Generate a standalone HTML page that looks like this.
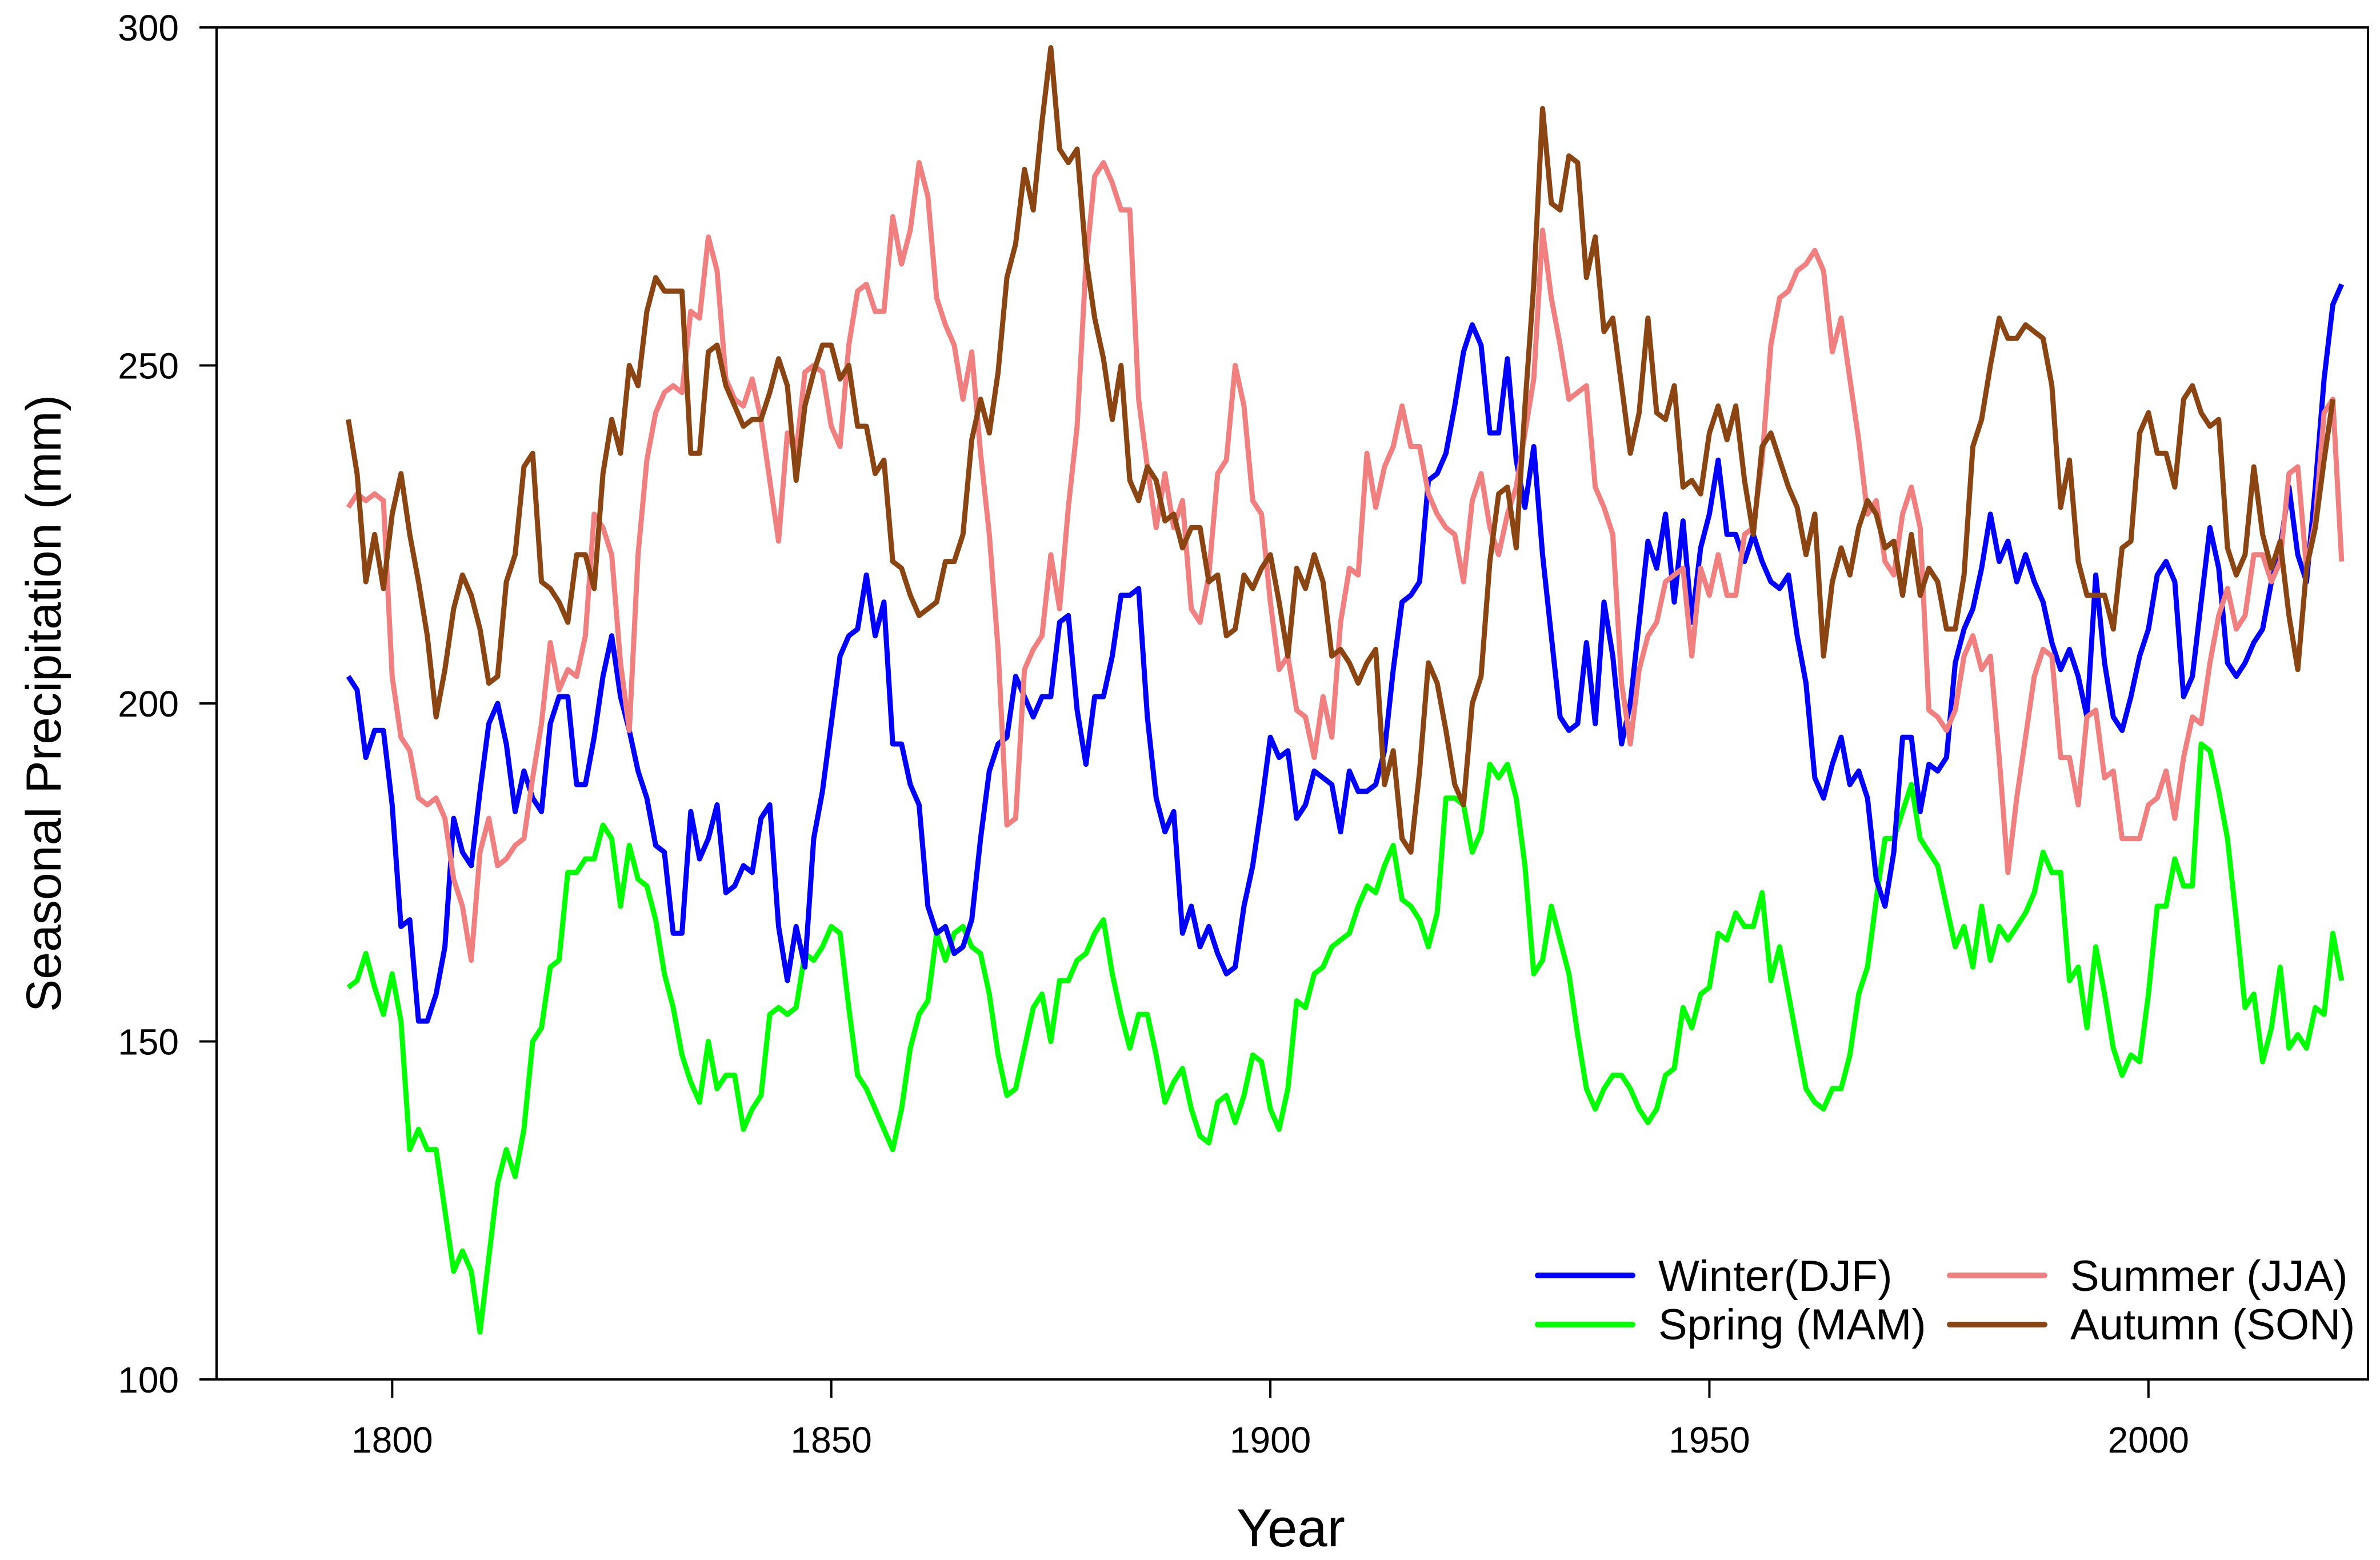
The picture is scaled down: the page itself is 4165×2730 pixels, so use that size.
<!DOCTYPE html>
<html><head><meta charset="utf-8"><style>
html,body{margin:0;padding:0;background:#fff;}
svg{display:block;font-family:"Liberation Sans",Arial,sans-serif;}
</style></head><body>
<svg id="chart" width="4165" height="2730" viewBox="0 0 4165 2730" xmlns="http://www.w3.org/2000/svg">
<rect width="4165" height="2730" fill="#fff"/>
<g id="plot"></g>
<rect x="379" y="48" width="3765" height="2366" fill="none" stroke="#000" stroke-width="4"/>
<g id="axes"></g>
<text x="2259" y="2706" font-size="94" text-anchor="middle">Year</text>
<text x="0" y="0" font-size="86" text-anchor="middle" transform="translate(106,1231) rotate(-90)">Seasonal Precipitation (mm)</text>
<g>
<line x1="2691" y1="2232" x2="2857" y2="2232" stroke="#0000ff" stroke-width="10" stroke-linecap="round"/>
<text x="2902" y="2259" font-size="76">Winter(DJF)</text>
<line x1="2691" y1="2318" x2="2857" y2="2318" stroke="#00ff00" stroke-width="10" stroke-linecap="round"/>
<text x="2902" y="2344" font-size="76">Spring (MAM)</text>
<line x1="3412" y1="2232" x2="3578" y2="2232" stroke="#f08080" stroke-width="10" stroke-linecap="round"/>
<text x="3623" y="2259" font-size="76">Summer (JJA)</text>
<line x1="3412" y1="2318" x2="3578" y2="2318" stroke="#8b4513" stroke-width="10" stroke-linecap="round"/>
<text x="3623" y="2344" font-size="76">Autumn (SON)</text>
</g>
</svg>
<script>
const startYear = 1795;
const xTicks = [1800, 1850, 1900, 1950, 2000];
const yTicks = [100, 150, 200, 250, 300];
const winter = [204,202,192,196,196,185,167,168,153,153,157,164,183,178,176,187,197,200,194,184,190,186,184,197,201,201,188,188,195,204,210,201,196,190,186,179,178,166,166,184,177,180,185,172,173,176,175,183,185,167,159,167,161,180,187,197,207,210,211,219,210,215,194,194,188,185,170,166,167,163,164,168,180,190,194,195,204,201,198,201,201,212,213,199,191,201,201,207,216,216,217,198,186,181,184,166,170,164,167,163,160,161,170,176,185,195,192,193,183,185,190,189,188,181,190,187,187,188,193,205,215,216,218,233,234,237,244,252,256,253,240,240,251,236,229,238,222,210,198,196,197,209,197,215,207,194,200,212,224,220,228,215,227,212,223,228,236,225,225,221,225,221,218,217,219,210,203,189,186,191,195,188,190,186,174,170,178,195,195,184,191,190,192,206,211,214,220,228,221,224,218,222,218,215,209,205,208,204,198,219,206,198,196,201,207,211,219,221,218,201,204,215,226,220,206,204,206,209,211,218,223,232,222,218,232,248,259,262];
const spring = [158,159,163,158,154,160,153,134,137,134,134,125,116,119,116,107,118,129,134,130,137,150,152,161,162,175,175,177,177,182,180,170,179,174,173,168,160,155,148,144,141,150,143,145,145,137,140,142,154,155,154,155,163,162,164,167,166,155,145,143,140,137,134,140,149,154,156,166,162,166,167,164,163,157,148,142,143,149,155,157,150,159,159,162,163,166,168,160,154,149,154,154,148,141,144,146,140,136,135,141,142,138,142,148,147,140,137,143,156,155,160,161,164,165,166,170,173,172,176,179,171,170,168,164,169,186,186,185,178,181,191,189,191,186,176,160,162,170,165,160,151,143,140,143,145,145,143,140,138,140,145,146,155,152,157,158,166,165,169,167,167,172,159,164,157,150,143,141,140,143,143,148,157,161,171,180,180,184,188,180,178,176,170,164,167,161,170,162,167,165,167,169,172,178,175,175,159,161,152,164,157,149,145,148,147,157,170,170,177,173,173,194,193,187,180,168,155,157,147,152,161,149,151,149,155,154,166,159];
const summer = [229,231,230,231,230,204,195,193,186,185,186,183,174,170,162,178,183,176,177,179,180,189,197,209,202,205,204,210,228,226,222,206,196,222,236,243,246,247,246,258,257,269,264,248,245,244,248,242,233,224,240,237,249,250,249,241,238,253,261,262,258,258,272,265,270,280,275,260,256,253,245,252,237,225,208,182,183,205,208,210,222,214,229,241,265,278,280,277,273,273,245,235,226,234,226,230,214,212,219,234,236,250,244,230,228,215,205,207,199,198,192,201,195,212,220,219,237,229,235,238,244,238,238,231,228,226,225,218,230,234,226,222,228,232,240,248,270,260,253,245,246,247,232,229,225,203,194,205,210,212,218,219,220,207,220,216,222,216,216,225,226,236,253,260,261,264,265,267,264,252,257,248,239,228,230,221,219,228,232,226,199,198,196,199,207,210,205,207,192,175,186,195,204,208,207,192,192,185,198,199,189,190,180,180,180,185,186,190,183,192,198,197,206,213,217,211,213,222,222,218,221,234,235,220,227,243,245,221];
const autumn = [242,234,218,225,217,228,234,225,218,210,198,205,214,219,216,211,203,204,218,222,235,237,218,217,215,212,222,222,217,234,242,237,250,247,258,263,261,261,261,237,237,252,253,247,244,241,242,242,246,251,247,233,244,249,253,253,248,250,241,241,234,236,221,220,216,213,214,215,221,221,225,239,245,240,249,263,268,279,273,286,297,282,280,282,266,257,251,242,250,233,230,235,233,227,228,223,226,226,218,219,210,211,219,217,220,222,215,207,220,217,222,218,207,208,206,203,206,208,188,193,180,178,190,206,203,196,188,185,200,204,221,231,232,223,244,262,288,274,273,281,280,263,269,255,257,247,237,243,257,243,242,247,232,233,231,240,244,239,244,233,225,238,240,236,232,229,222,228,207,218,223,219,226,230,228,223,224,216,225,216,220,218,211,211,219,238,242,250,257,254,254,256,255,254,247,229,236,221,216,216,216,211,223,224,240,243,237,237,232,245,247,243,241,242,223,219,222,235,225,220,224,213,205,220,226,236,245];

const L=379,R=4144,T=48,B=2414;
const xMin=1780,xMax=2025,yMin=100,yMax=300;
function xs(yr){return L+(yr-xMin)/(xMax-xMin)*(R-L);}
function ys(v){return B-(v-yMin)/(yMax-yMin)*(B-T);}
const NS="http://www.w3.org/2000/svg";
const plot=document.getElementById('plot');
const axes=document.getElementById('axes');

function drawSeries(arr,color,name){
  const p=document.createElementNS(NS,'path');
  let d='';
  arr.forEach((v,i)=>{d+=(i?'L':'M')+xs(startYear+i).toFixed(1)+','+ys(v).toFixed(1);});
  p.setAttribute('d',d);
  p.setAttribute('fill','none');
  p.setAttribute('stroke',color);
  p.setAttribute('stroke-width','9');
  p.setAttribute('stroke-linejoin','round');
  
  
  plot.appendChild(p);
}
drawSeries(spring,'#00ff00','spring-line');
drawSeries(winter,'#0000ff','winter-line');
drawSeries(summer,'#f08080','summer-line');
drawSeries(autumn,'#8b4513','autumn-line');

xTicks.forEach(t=>{
  const ln=document.createElementNS(NS,'line');
  ln.setAttribute('x1',xs(t));ln.setAttribute('x2',xs(t));
  ln.setAttribute('y1',B);ln.setAttribute('y2',B+32);
  ln.setAttribute('stroke','#000');ln.setAttribute('stroke-width','4');
  
  
  axes.appendChild(ln);
  const tx=document.createElementNS(NS,'text');
  tx.setAttribute('x',xs(t));tx.setAttribute('y',B+128);
  tx.setAttribute('font-size','64');tx.setAttribute('text-anchor','middle');
  tx.textContent=t;
  
  
  axes.appendChild(tx);
});
yTicks.forEach(t=>{
  const ln=document.createElementNS(NS,'line');
  ln.setAttribute('x1',L-30);ln.setAttribute('x2',L);
  ln.setAttribute('y1',ys(t));ln.setAttribute('y2',ys(t));
  ln.setAttribute('stroke','#000');ln.setAttribute('stroke-width','4');
  
  
  axes.appendChild(ln);
  const tx=document.createElementNS(NS,'text');
  tx.setAttribute('x',L-66);tx.setAttribute('y',ys(t)+23);
  tx.setAttribute('font-size','64');tx.setAttribute('text-anchor','end');
  tx.textContent=t;
  
  
  axes.appendChild(tx);
});
</script>
</body></html>
